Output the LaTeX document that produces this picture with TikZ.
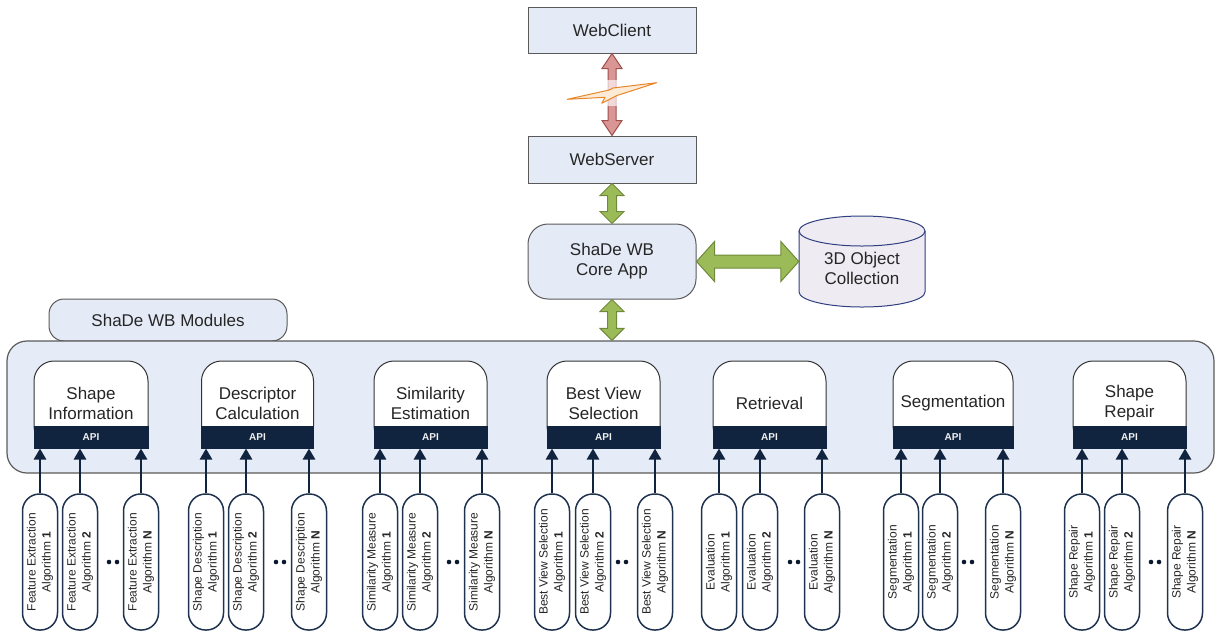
\documentclass[tikz,border=0pt]{standalone}
\usepackage{fontspec}
\setmainfont{Liberation Sans}
\usetikzlibrary{arrows.meta,calc}

\definecolor{boxfill}{HTML}{E4EAF6}
\definecolor{panelfill}{HTML}{E6ECF7}
\definecolor{edge}{HTML}{5A5A5A}
\definecolor{navy}{HTML}{10243F}
\definecolor{pilledge}{HTML}{1F3350}
\definecolor{txt}{HTML}{262626}
\definecolor{grfill}{HTML}{9BBB59}
\definecolor{grline}{HTML}{6F8A3A}
\definecolor{rdfill}{HTML}{D99694}
\definecolor{rdline}{HTML}{A0504D}
\definecolor{boltline}{HTML}{E8862A}
\definecolor{boltfill}{HTML}{FDEBD6}
\definecolor{dbfill}{HTML}{EEEBF3}
\definecolor{dbline}{HTML}{2F3F7F}

% vertical block arrow with heads at both ends:
% #1 upper anchor, #2 lower anchor, #3 half shaft, #4 half head, #5 head length, #6 style
\newcommand{\vdarrow}[6]{%
  \path[#6] let \p1=(#1), \p2=(#2) in
   (\x1,\y1) -- (\x1+#4,\y1-#5) -- (\x1+#3,\y1-#5) -- (\x1+#3,\y2+#5) -- (\x1+#4,\y2+#5)
   -- (\x1,\y2) -- (\x1-#4,\y2+#5) -- (\x1-#3,\y2+#5) -- (\x1-#3,\y1-#5) -- (\x1-#4,\y1-#5) -- cycle;}
% horizontal block arrow with heads at both ends: #1 left anchor, #2 right anchor
\newcommand{\hdarrow}[6]{%
  \path[#6] let \p1=(#1), \p2=(#2) in
   (\x1,\y1) -- (\x1+#5,\y1+#4) -- (\x1+#5,\y1+#3) -- (\x2-#5,\y1+#3) -- (\x2-#5,\y1+#4)
   -- (\x2,\y1) -- (\x2-#5,\y1-#4) -- (\x2-#5,\y1-#3) -- (\x1+#5,\y1-#3) -- (\x1+#5,\y1-#4) -- cycle;}

\tikzset{
  bigfont/.style={font=\fontsize{17}{20}\selectfont, text=txt},
  topbox/.style={bigfont, draw=edge, line width=1pt, fill=boxfill,
    minimum width=168pt, inner sep=0pt},
  corebox/.style={topbox, rounded corners=20pt, align=center},
  labelbox/.style={bigfont, draw=edge, line width=1pt, fill=boxfill,
    rounded corners=15pt, minimum width=238pt, minimum height=42pt, inner sep=0pt},
  panel/.style={draw=edge, line width=1.2pt, fill=panelfill, rounded corners=20pt,
    minimum width=1207pt, minimum height=132pt, inner sep=0pt},
  modbox/.style={bigfont, draw=black!80, line width=1pt, fill=white,
    rounded corners=20pt, minimum height=85pt, inner sep=0pt, align=center},
  apibox/.style={draw=navy, fill=navy, line width=1pt, minimum height=22pt, inner sep=0pt,
    text=white!88!gray, font=\bfseries\fontsize{10}{12}\selectfont},
  pill/.style={draw=pilledge, line width=1.5pt, fill=white, rounded corners=17pt,
    minimum width=35pt, minimum height=136pt, inner sep=0pt},
  algtext/.style={rotate=90, align=center, text=txt, inner sep=0pt,
    font=\fontsize{12}{15}\selectfont},
  algarrow/.style={draw=navy, line width=2.6pt, -{Triangle[width=12pt,length=11pt]}},
  greenarrow/.style={fill=grfill, draw=grline, line width=1pt, line join=miter},
  redarrow/.style={fill=rdfill, draw=rdline, line width=1pt},
}

\begin{document}
\begin{tikzpicture}[x=1pt,y=-1pt]
\useasboundingbox (0,0) rectangle (1217,633);

% ---- web tier ----
\node[topbox, minimum height=46pt] (client) at (612,30) {WebClient};
\node[topbox, minimum height=47pt] (server) at (612,159.5) {WebServer};
\node[corebox, minimum height=75pt] (core) at (612,261.5) {ShaDe WB\\Core App};

% network link between client and server
\vdarrow{client.south}{server.north}{4pt}{10pt}{15pt}{redarrow}
\fill[white, opacity=0.65] (607,80) rectangle (617,106);
\draw[draw=boltline, fill=boltfill, line width=1pt, line join=round]
  (567.3,99.3) -- (609.3,90) -- (613,88) -- (656.7,82.7) -- (617,95.5)
  -- (601.7,103.3) -- (605,97.3) -- cycle;

% ---- object store ----
\node[minimum width=126pt, minimum height=91pt, inner sep=0pt] (db) at (862,261.5) {};
\path[fill=dbfill, draw=dbline, line width=1pt]
  (799,231) -- (799,292) arc[start angle=180,end angle=360,x radius=63pt,y radius=15pt]
  -- (925,231) arc[start angle=0,end angle=180,x radius=63pt,y radius=15pt] -- cycle;
\draw[dbline, line width=1pt] (799,231) arc[start angle=180,end angle=360,x radius=63pt,y radius=15pt];
\node[bigfont, align=center, inner sep=0pt] (dbtext) at (862,268) {3D Object\\Collection};

% ---- modules panel ----
\node[labelbox] (modlabel) at (168,320) {ShaDe WB Modules};
\node[panel] (panel) at (610.5,407) {};

\vdarrow{server.south}{core.north}{4.5pt}{12pt}{12pt}{greenarrow}
\vdarrow{core.south}{core.south |- panel.north}{4.5pt}{12pt}{12pt}{greenarrow}
\hdarrow{core.east}{db.west}{6.5pt}{20pt}{18pt}{greenarrow}

\foreach \gi/\cx/\mw/\mt/\ptx/\xa/\xb/\xc/\xd in {
  1/91/114/{Shape\\Information}/{Feature Extraction}/40/80/141/113,
  2/257.5/112/{Descriptor\\Calculation}/{Shape Description}/206/246/309/280,
  3/430.5/113/{Similarity\\Estimation}/{Similarity Measure}/380/420/482/453,
  4/603.5/113/{Best View\\Selection}/{Best View Selection}/552/593/655/622,
  5/769.5/113/{Retrieval}/{Evaluation}/719/760/822/794,
  6/953/120/{Segmentation}/{Segmentation}/901/940/1003/968,
  7/1129.5/113/{Shape\\Repair}/{Shape Repair}/1082/1122/1185/1155}
{
  \node[modbox, minimum width=\mw pt] (m\gi) at (\cx,403.5) {\mt};
  \node[apibox, minimum width=\mw pt] (a\gi) at (\cx,437) {API};
  \foreach \q/\px/\nn in {1/\xa/1, 2/\xb/2, 3/\xc/N} {
    \node[pill] (p\gi\q) at (\px,562) {};
    \node[algtext] (t\gi\q) at (p\gi\q) {\ptx\\Algorithm \textbf{\nn}};
    \draw[algarrow] (p\gi\q.north) -- (p\gi\q.north |- a\gi.south);
  }
  \fill[navy!70!black] (\xd-4,562) circle[radius=2.3pt] (\xd+4,562) circle[radius=2.3pt];
}
\end{tikzpicture}
\end{document}
